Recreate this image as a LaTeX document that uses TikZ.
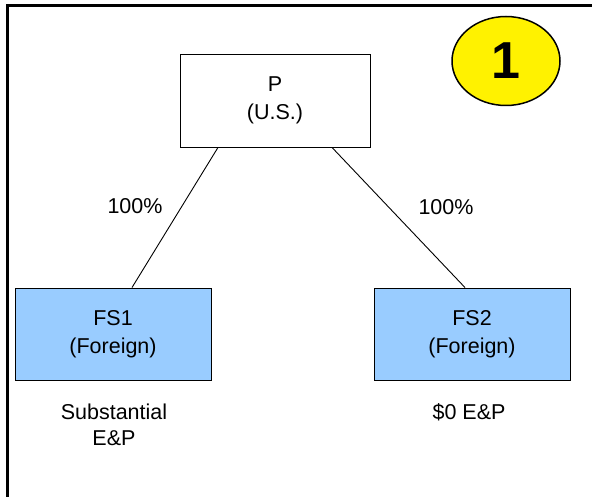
\documentclass[tikz,border=0pt]{standalone}
\usepackage{fontspec}
\setmainfont{Liberation Sans}
\usepackage{tikz}
\usetikzlibrary{calc,shapes.geometric}
\definecolor{fsblue}{HTML}{99CCFF}
\tikzset{
  entity/.style={draw,line width=0.9pt,align=center,minimum width=190pt,minimum height=93pt,inner sep=0pt,font=\fontsize{21.5}{28}\selectfont},
  foreign/.style={entity,fill=fsblue,minimum width=196pt,minimum height=92pt},
  lbl/.style={align=center,inner sep=0pt,font=\fontsize{21.5}{26}\selectfont}
}
\begin{document}
\begin{tikzpicture}[x=1pt,y=-1pt]
              \useasboundingbox (0,0) rectangle (592,497);
              \draw[line width=3pt](7.5,497)--(7.5,5.5)--(592,5.5);
              \node[entity](p)at(275,100.5){P\\(U.S.)};
              \node[foreign](fs1)at(113,334){FS1\\(Foreign)};
              \node[foreign](fs2)at(472,334){FS2\\(Foreign)};
              \node[ellipse,draw,line width=1.5pt,fill=yellow,inner sep=0pt,minimum width=108pt,minimum height=89pt,font=\fontsize{52}{52}\selectfont\bfseries](num)at(506,61){1};
              \draw[line width=0.9pt]([xshift=-57pt]p.south)--([xshift=19pt]fs1.north);
              \draw[line width=0.9pt]([xshift=57pt]p.south)--([xshift=-7pt]fs2.north);
              \node[lbl](pct1)at(135,206){100\%};
              \node[lbl](pct2)at(446,207){100\%};
              \node[lbl](ep1)at(114,425){Substantial\\E\&P};
              \node[lbl](ep2)at(469,412){\$0 E\&P};
            \end{tikzpicture}
\end{document}
